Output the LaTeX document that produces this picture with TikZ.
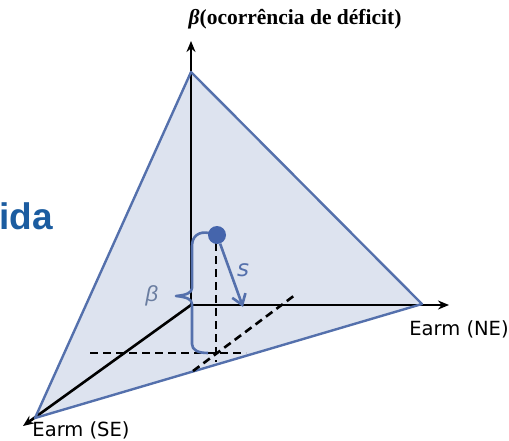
\documentclass[tikz,border=0pt]{standalone}
\usepackage{fontspec}
\usepackage{tikz}
\usetikzlibrary{arrows.meta, positioning, calc}
\setmainfont{DejaVu Sans}
\newfontfamily\labelserif{Liberation Serif}
\newfontfamily\titlesans{Liberation Sans}
\definecolor{planefill}{HTML}{DDE3EF}
\definecolor{planeedge}{HTML}{5470AC}
\definecolor{pointblue}{HTML}{4565AC}
\definecolor{betagray}{HTML}{6A7DA0}
\definecolor{idablue}{HTML}{1B5CA0}

\begin{document}
\begin{tikzpicture}[x=1pt, y=-1pt, line join=round,
        axis/.style={line width=2.6pt, -{Stealth[length=11pt, width=9pt]}},
        dashline/.style={line width=2.6pt, dash pattern=on 8pt off 5pt},
        blueline/.style={planeedge, line width=2.4pt}]
        \useasboundingbox (0,0) rectangle (509,440);
        % plane and its corners
        \coordinate (O) at (191,305);
        \coordinate (top) at (191,72);
        \coordinate (ne) at (422,304);
        \coordinate (se) at (35,418);
        \fill[planefill] (top) -- (ne) -- (se) -- cycle;
        % axes
        \coordinate (ytip) at (191,41);
        \coordinate (xtip) at (449,305);
        \coordinate (ztip) at (23,426);
        \draw[axis] (O) -- (ytip);
        \draw[axis] (O) -- (xtip);
        \draw[axis] (O) -- (ztip);
        \draw[blueline] (top) -- (ne) -- (se) -- cycle;
        % projections
        \draw[dashline] (90,353) -- (246,353);
        \draw[dashline] (216,243) -- (216,362);
        \draw[dashline] (193,371) -- (295,295);
        % brace
        \draw[blueline, line width=2.6pt]
            (209,233) .. controls (199,231) and (192,236) .. (192,246) -- (192,288)
            .. controls (192,293) and (186,295) .. (176,296)
            .. controls (186,297) and (192,299) .. (192,304) -- (192,344)
            .. controls (192,350) and (198,353) .. (208,353);
        % point and direction s
        \node[circle, fill=pointblue, inner sep=0pt, minimum size=18pt] (P) at (217,235) {};
        \coordinate (send) at (243,307);
        \draw[blueline, line width=2.6pt, -{Straight Barb[length=10pt, width=14pt]}] (P) -- (send);
        % labels
        \node[font=\itshape\fontsize{23}{23}\selectfont, text=planeedge] (slbl) at (243,270) {s};
        \node[font=\titlesans\itshape\fontsize{22}{22}\selectfont, text=betagray] (blbl) at (152,296) {β};
        \node[font=\labelserif\bfseries\fontsize{21.5}{22}\selectfont] (ylbl) at (295,19)
            {{\itshape β}(ocorrência de déficit)};
        \node[font=\fontsize{19.5}{20}\selectfont] (nelbl) at (459,329) {Earm (NE)};
        \node[font=\fontsize{19.5}{20}\selectfont] (selbl) at (81,430) {Earm (SE)};
        \node[font=\titlesans\bfseries\fontsize{37}{37}\selectfont, text=idablue,
            anchor=base east, inner sep=0pt] (ida) at (53,229) {ida};
    \end{tikzpicture}
\end{document}
